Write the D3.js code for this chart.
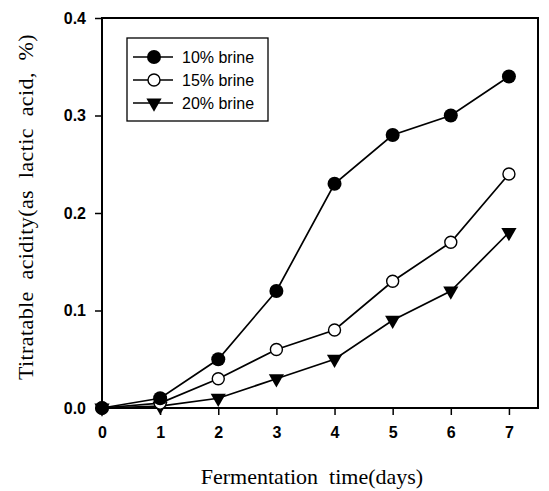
<!DOCTYPE html>
<html>
<head>
<meta charset="utf-8">
<script src="https://cdn.jsdelivr.net/npm/d3@7"></script>
<style>
  html, body { margin: 0; padding: 0; background: #fff; }
  svg { display: block; }
</style>
</head>
<body>
<div id="chart"></div>
<script>
const days = [0, 1, 2, 3, 4, 5, 6, 7];
const brine10 = [0, 0.01, 0.05, 0.12, 0.23, 0.28, 0.30, 0.34];
const brine15 = [0, 0.005, 0.03, 0.06, 0.08, 0.13, 0.17, 0.24];
const brine20 = [0, 0.002, 0.01, 0.03, 0.05, 0.09, 0.12, 0.18];
const seriesNames = ["10% brine", "15% brine", "20% brine"];
const yTicks = [0.0, 0.1, 0.2, 0.3, 0.4];
const xTitle = "Fermentation  time(days)";
const yTitle = "Titratable  acidity(as  lactic  acid,  %)";

const W = 549, H = 491;
const m = { left: 102, right: 11, top: 18, bottom: 83 };

const svg = d3.select("#chart").append("svg").attr("width", W).attr("height", H);

const x = d3.scaleLinear().domain([0, 7.5]).range([m.left, W - m.right]);
const y = d3.scaleLinear().domain([0, 0.4]).range([H - m.bottom, m.top]);

// frame
svg.append("rect")
  .attr("x", x(0)).attr("y", y(0.4))
  .attr("width", x(7.5) - x(0)).attr("height", y(0) - y(0.4))
  .attr("fill", "none").attr("stroke", "#000").attr("stroke-width", 2);

// axes
const xAxis = svg.append("g").attr("transform", `translate(0,${y(0)})`)
  .call(d3.axisBottom(x).tickValues(days).tickFormat(d3.format("d")).tickSize(7).tickPadding(12));
const yAxis = svg.append("g").attr("transform", `translate(${x(0)},0)`)
  .call(d3.axisLeft(y).tickValues(yTicks).tickFormat(d3.format(".1f")).tickSize(7).tickPadding(9));
[xAxis, yAxis].forEach(g => {
  g.select(".domain").remove();
  g.selectAll(".tick line").attr("stroke", "#000").attr("stroke-width", 1.5);
  g.selectAll(".tick text")
    .attr("fill", "#000")
    .style("font-family", "'Liberation Sans', Arial, sans-serif")
    .style("font-weight", "bold")
    .style("font-size", "16px");
});

// titles
svg.append("text")
  .attr("x", 312).attr("y", 484)
  .attr("text-anchor", "middle")
  .style("font-family", "'Liberation Serif', 'Times New Roman', serif")
  .style("font-size", "22px")
  .style("white-space", "pre")
  .attr("xml:space", "preserve")
  .text(xTitle);

svg.append("text")
  .attr("transform", `translate(33,207) rotate(-90)`)
  .attr("text-anchor", "middle")
  .style("font-family", "'Liberation Serif', 'Times New Roman', serif")
  .style("font-size", "22px")
  .style("letter-spacing", "0.4px")
  .style("white-space", "pre")
  .attr("xml:space", "preserve")
  .text(yTitle);

// series
const data = [brine10, brine15, brine20].map((vals, i) => ({
  name: seriesNames[i],
  pts: days.map((d, j) => ({ d, v: vals[j] }))
}));

const line = d3.line().x(p => x(p.d)).y(p => y(p.v));
const tri = d3.symbol().type(d3.symbolTriangle).size(100);

function drawMarker(g, i, cx, cy) {
  if (i === 0) {
    g.append("circle").attr("cx", cx).attr("cy", cy).attr("r", 7).attr("fill", "#000");
  } else if (i === 1) {
    g.append("circle").attr("cx", cx).attr("cy", cy).attr("r", 6)
      .attr("fill", "#fff").attr("stroke", "#000").attr("stroke-width", 1.4);
  } else {
    g.append("path").attr("d", tri)
      .attr("transform", `translate(${cx},${cy}) rotate(180)`).attr("fill", "#000");
  }
}

data.forEach(s => {
  svg.append("path").datum(s.pts).attr("d", line)
    .attr("fill", "none").attr("stroke", "#000").attr("stroke-width", 1.7);
});
[2, 1, 0].forEach(i => {
  const g = svg.append("g");
  data[i].pts.forEach(p => drawMarker(g, i, x(p.d), y(p.v)));
});

// legend
const lg = svg.append("g");
lg.append("rect").attr("x", 127).attr("y", 38).attr("width", 141).attr("height", 83)
  .attr("fill", "#fff").attr("stroke", "#000").attr("stroke-width", 1.3);
seriesNames.forEach((name, i) => {
  const cy = 57 + i * 23;
  lg.append("line").attr("x1", 133).attr("x2", 173).attr("y1", cy).attr("y2", cy)
    .attr("stroke", "#000").attr("stroke-width", 1.5);
  drawMarker(lg, i, 154, cy);
  lg.append("text").attr("x", 182).attr("y", cy + 6)
    .style("font-family", "'Liberation Sans', Arial, sans-serif")
    .style("font-size", "16px")
    .text(name);
});
</script>
</body>
</html>
